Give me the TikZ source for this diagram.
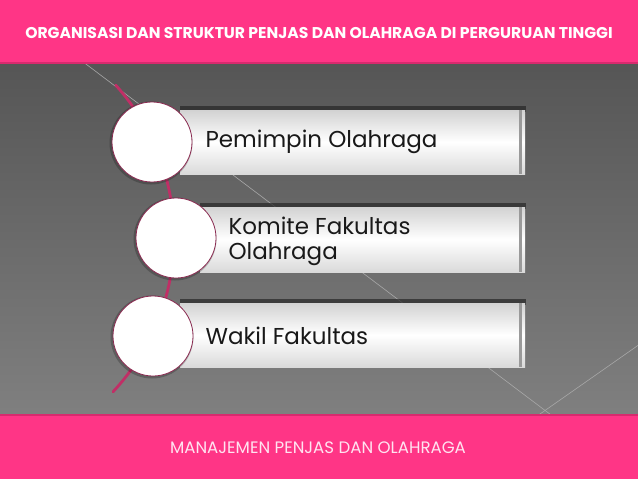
\documentclass[tikz,border=0pt]{standalone}
\usepackage{fontspec}
\setmainfont{Poppins}
\usetikzlibrary{positioning}

\definecolor{barpink}{HTML}{FF3586}
\definecolor{baredge}{HTML}{D82A6E}
\definecolor{linepink}{HTML}{C02F66}
\definecolor{rimpink}{HTML}{8B2C52}
\definecolor{bgtop}{HTML}{4E4E4E}
\definecolor{bgbot}{HTML}{878787}
\definecolor{stripe}{HTML}{A8A8A8}
\definecolor{boxtop}{HTML}{D2D2D2}
\definecolor{boxbot}{HTML}{DADADA}
\definecolor{boxedge}{HTML}{9A9A9A}
\definecolor{captext}{HTML}{FFE3F0}

\begin{document}
\begin{tikzpicture}[x=1pt, y=1pt,
    band/.style={fill=barpink},
    bandedge/.style={draw=baredge, line width=1.2pt},
    stripeline/.style={draw=stripe, line width=.6pt},
    spine/.style={draw=linepink, line width=2.8pt, line cap=round},
    slab/.style={top color=boxtop, bottom color=boxbot, middle color=white},
    slabshadow/.style={fill=black!85, opacity=.7},
    bevel/.style={fill=boxedge},
    ringshadow/.style={fill=black, opacity=.22},
    ring/.style={circle, minimum size=80pt, inner sep=0pt, draw=rimpink, line width=.8pt,
      fill=white},
    itemtext/.style={anchor=west, inner sep=0pt, text=black!90, align=left,
      font=\fontsize{23}{25}\selectfont}
  ]
    \useasboundingbox (0,0) rectangle (638,-479);
    \fill[top color=bgtop, bottom color=bgbot] (0,0) rectangle (638,-479);

    \draw[stripeline] (70,-52) -- (567,-427);
    \draw[stripeline] (660,-330) -- (520,-428);

    \coordinate (O) at (-53,-237);
    \draw[spine] (O) ++(42:227) arc[start angle=42, end angle=-43, radius=227];

    \coordinate (C1) at (152,-142);
    \coordinate (C2) at (176,-238);
    \coordinate (C3) at (153,-336);

    \fill[slabshadow] (180,-106) rectangle (526,-112);
    \shade[slab] (180,-110) rectangle (525,-174);
    \fill[bevel] (519,-110) rectangle (522,-174);

    \fill[slabshadow] (200,-203) rectangle (526,-209);
    \shade[slab] (200,-207) rectangle (525,-272);
    \fill[bevel] (519,-207) rectangle (522,-272);

    \fill[slabshadow] (180,-299) rectangle (526,-305);
    \shade[slab] (180,-303) rectangle (525,-367);
    \fill[bevel] (519,-303) rectangle (522,-367);

    \fill[ringshadow] (C1) ++(-1,-1) circle (41.5);
    \fill[ringshadow] (C2) ++(-1,-1) circle (41.5);
    \fill[ringshadow] (C3) ++(-1,-1) circle (41.5);
    \node[ring] (R1) at (C1) {};
    \node[ring] (R2) at (C2) {};
    \node[ring] (R3) at (C3) {};

    \node[itemtext, right=13pt of R1.east] (T1) {Pemimpin Olahraga};
    \node[itemtext, right=12pt of R2.east, yshift=-3pt] (T2) {Komite Fakultas\\Olahraga};
    \node[itemtext, right=12pt of R3.east] (T3) {Wakil Fakultas};

    \fill[band] (0,0) rectangle (638,-63);
    \draw[bandedge] (0,-63) -- (638,-63);
    \fill[band] (0,-415) rectangle (638,-479);
    \draw[bandedge] (0,-415) -- (638,-415);

    \node[text=white, font=\bfseries\fontsize{15.6}{18}\selectfont] (head) at (319,-33)
      {ORGANISASI DAN STRUKTUR PENJAS DAN OLAHRAGA DI PERGURUAN TINGGI};
    \node[text=captext, font=\fontsize{16.6}{19}\selectfont] (foot) at (318,-448)
      {MANAJEMEN PENJAS DAN OLAHRAGA};
\end{tikzpicture}
\end{document}
